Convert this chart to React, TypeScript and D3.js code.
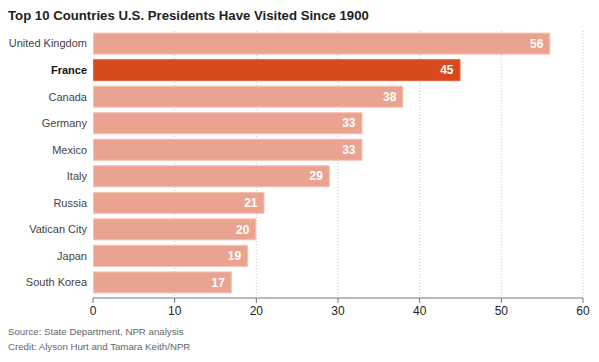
import React from "react";
import * as d3 from "d3";

const countries = ["United Kingdom", "France", "Canada", "Germany", "Mexico", "Italy", "Russia", "Vatican City", "Japan", "South Korea"];
const visits = [56, 45, 38, 33, 33, 29, 21, 20, 19, 17];
const highlighted = ["France"];
const xTicks = [0, 10, 20, 30, 40, 50, 60];
const title = "Top 10 Countries U.S. Presidents Have Visited Since 1900";
const notes = ["Source: State Department, NPR analysis", "Credit: Alyson Hurt and Tamara Keith/NPR"];

const W = 599, H = 362;
const FONT = "'Liberation Sans', Arial, Helvetica, sans-serif";

export default function App() {
  const x = d3.scaleLinear().domain([0, 60]).range([93, 583]);
  const y = d3.scaleBand().domain(countries).range([31, 295]).paddingInner(0.17).paddingOuter(0.06);
  const axisY = 298;
  return (
    <svg width={W} height={H} style={{ position: "absolute", left: 0, top: 0, background: "#fff" }} fontFamily={FONT}>
      <text x={8} y={20} fontSize={13.2} fontWeight="bold" fill="#222">{title}</text>
      {xTicks.slice(1).map(t => (
        <line key={t} x1={x(t)} x2={x(t)} y1={31} y2={axisY} stroke="#c8c8c8" strokeDasharray="1,2" />
      ))}
      {countries.map((c, i) => {
        const hl = highlighted.includes(c);
        const yy = y(c)!;
        const bw = x(visits[i]) - x(0);
        return (
          <g key={c}>
            <rect x={x(0) + 0.5} y={yy + 0.5} width={bw - 1} height={y.bandwidth() - 1}
              fill={hl ? "#d84a1e" : "#eaa391"} stroke={hl ? "#e0663f" : "#f2c3b6"} strokeWidth={1} />
            <text x={x(visits[i]) - 7} y={yy + y.bandwidth() / 2} dy="0.35em" textAnchor="end"
              fontSize={12} fontWeight="bold" fill="#fff">{visits[i]}</text>
            <text x={87} y={yy + y.bandwidth() / 2} dy="0.35em" textAnchor="end"
              fontSize={11} fontWeight={hl ? "bold" : "normal"} fill={hl ? "#111" : "#444"}>{c}</text>
          </g>
        );
      })}
      <line x1={x(0)} x2={x(60)} y1={axisY} y2={axisY} stroke="#777" strokeWidth={1} />
      {xTicks.map(t => (
        <g key={t}>
          <line x1={x(t)} x2={x(t)} y1={axisY} y2={axisY + 5} stroke="#777" />
          <text x={x(t)} y={315} textAnchor="middle" fontSize={12} fill="#222">{t}</text>
        </g>
      ))}
      {notes.map((n, i) => (
        <text key={n} x={8} y={335 + i * 15} fontSize={9.7} fill="#666">{n}</text>
      ))}
    </svg>
  );
}
